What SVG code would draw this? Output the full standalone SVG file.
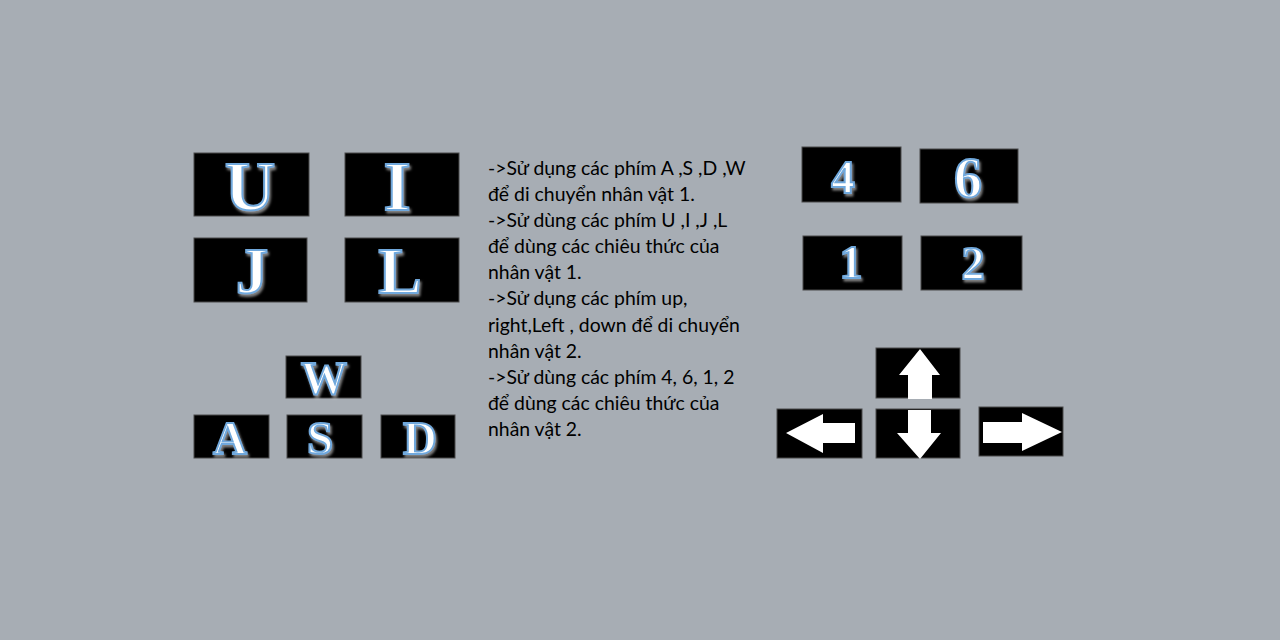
<svg xmlns="http://www.w3.org/2000/svg" width="1280" height="640" viewBox="0 0 1280 640">
<defs>
<filter id="sh" x="-20%" y="-20%" width="140%" height="140%">
<feDropShadow dx="1.5" dy="2.5" stdDeviation="1" flood-color="#ffffff" flood-opacity="0.5"/>
</filter>
</defs>
<style>
.key{fill:#000;stroke:#4a4a4a;stroke-width:1}
.lt{font-family:"Liberation Serif","Times New Roman",serif;font-weight:bold;fill:#fff;stroke:#6fa8dc;stroke-width:2;text-anchor:middle;filter:url(#sh)}
.ar{fill:#fff}
.desc{font-family:Lato,"Noto Sans",sans-serif;font-size:19.4px;fill:#000}
</style>
<rect width="1280" height="640" fill="#a7adb4"/>
<g id="key-U"><rect class="key" x="194" y="153" width="115" height="63"/><text class="lt" x="250" y="210" font-size="70">U</text></g>
<g id="key-I"><rect class="key" x="345" y="153" width="114" height="63"/><text class="lt" x="397" y="210" font-size="70">I</text></g>
<g id="key-J"><rect class="key" x="194" y="238" width="113" height="64"/><text class="lt" x="252" y="293" font-size="65">J</text></g>
<g id="key-L"><rect class="key" x="345" y="238" width="114" height="64"/><text class="lt" x="400" y="293" font-size="65">L</text></g>
<g id="key-W"><rect class="key" x="286" y="356" width="75" height="42"/><text class="lt" x="324" y="394" font-size="46">W</text></g>
<g id="key-A"><rect class="key" x="194" y="415" width="75" height="43"/><text class="lt" x="230" y="454" font-size="47">A</text></g>
<g id="key-S"><rect class="key" x="287" y="415" width="75" height="43"/><text class="lt" x="320" y="454" font-size="47">S</text></g>
<g id="key-D"><rect class="key" x="381" y="415" width="74" height="43"/><text class="lt" x="420" y="454" font-size="47">D</text></g>
<g id="description">
<text class="desc" x="488" y="175">-&gt;Sử dụng các phím A ,S ,D ,W</text>
<text class="desc" x="488" y="201">để di chuyển nhân vật 1.</text>
<text class="desc" x="488" y="227">-&gt;Sử dùng các phím U ,I ,J ,L</text>
<text class="desc" x="488" y="253">để dùng các chiêu thức của</text>
<text class="desc" x="488" y="279">nhân vật 1.</text>
<text class="desc" x="488" y="305">-&gt;Sử dụng các phím up,</text>
<text class="desc" x="488" y="332">right,Left , down để di chuyển</text>
<text class="desc" x="488" y="358">nhân vật 2.</text>
<text class="desc" x="488" y="384">-&gt;Sử dùng các phím 4, 6, 1, 2</text>
<text class="desc" x="488" y="410">để dùng các chiêu thức của</text>
<text class="desc" x="488" y="436">nhân vật 2.</text>
</g>
<g id="key-4"><rect class="key" x="802" y="147" width="99" height="55"/><text class="lt" x="843" y="193" font-size="47">4</text></g>
<g id="key-6"><rect class="key" x="920" y="149" width="98" height="54"/><text class="lt" x="968" y="197" font-size="56">6</text></g>
<g id="key-1"><rect class="key" x="803" y="236" width="99" height="54"/><text class="lt" x="851" y="278" font-size="46">1</text></g>
<g id="key-2"><rect class="key" x="921" y="236" width="101" height="54"/><text class="lt" x="973" y="279" font-size="46">2</text></g>
<g id="key-up"><rect class="key" x="876" y="348" width="84" height="50"/><polygon class="ar" points="920,349 940,375 932,375 932,399 908,399 908,375 899,375"/></g>
<g id="key-left"><rect class="key" x="777" y="409" width="85" height="49"/><polygon class="ar" points="786,433 823,414 823,423 855,423 855,443 823,443 823,453"/></g>
<g id="key-down"><rect class="key" x="876" y="409" width="84" height="49"/><polygon class="ar" points="908,410 931,410 931,433 941,433 920,459 897,433 908,433"/></g>
<g id="key-right"><rect class="key" x="979" y="407" width="84" height="49"/><polygon class="ar" points="983,422 1022,422 1022,413 1062,432 1022,451 1022,443 983,443"/></g>
</svg>
